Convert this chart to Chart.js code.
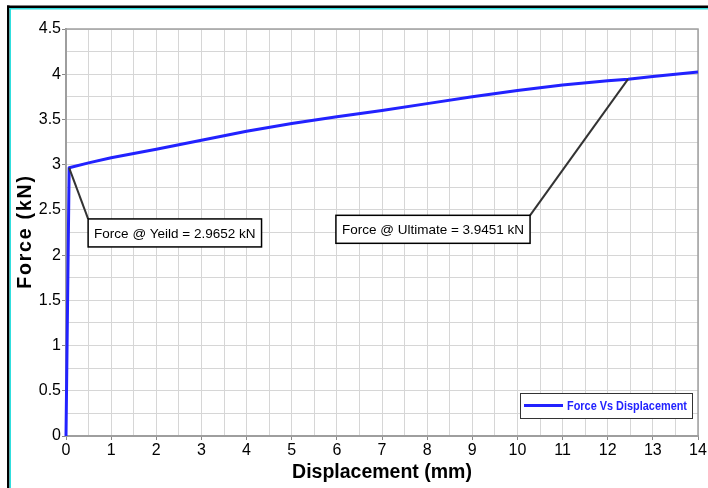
<!DOCTYPE html>
<html>
<head>
<meta charset="utf-8">
<script src="https://cdn.jsdelivr.net/npm/chart.js@4.4.0/dist/chart.umd.min.js"></script>
<style>
  html, body { margin: 0; padding: 0; background: #fff; }
  #wrap { width: 708px; height: 488px; }
</style>
</head>
<body>
<div id="wrap"><canvas id="forceChart" width="708" height="488"></canvas></div>
<script>
// values
const displacement = [0, 0.07, 0.5, 1, 2, 3, 4, 5, 6, 7, 8, 9, 10, 11, 12, 12.45, 13, 14];
const force = [0, 2.9652, 3.02, 3.077, 3.17, 3.27, 3.37, 3.455, 3.53, 3.60, 3.675, 3.75, 3.82, 3.88, 3.927, 3.9451, 3.975, 4.025];
const seriesLabel = "Force Vs Displacement";
const yTitle = "Force (kN)";
const calloutTexts = ["Force @ Yeild = 2.9652 kN", "Force @ Ultimate = 3.9451 kN"];
const calloutPoints = [[0.07, 2.9652], [12.45, 3.9451]];

const BLUE = "#2222ff";
const FONT = "'Liberation Sans', Arial, sans-serif";

// window frame (black + cyan edge) seen round the screenshot, plot border, y title
const framePlugin = {
  id: "frame",
  beforeDraw(chart) {
    const ctx = chart.ctx, a = chart.chartArea;
    ctx.save();
    ctx.fillStyle = "#fff";
    ctx.fillRect(0, 0, chart.width, chart.height);
    ctx.fillStyle = "#000";
    ctx.fillRect(7, 5.5, chart.width - 7, 2.5);
    ctx.fillRect(7, 5.5, 2.5, chart.height);
    ctx.fillStyle = "#30dede";
    ctx.fillRect(9.5, 8, chart.width - 9.5, 1.5);
    ctx.fillRect(9.5, 8, 1.5, chart.height);

    // rotated y axis title, a bit spaced out like the original
    ctx.translate(25, (a.top + a.bottom) / 2);
    ctx.rotate(-Math.PI / 2);
    ctx.font = "bold 19.5px " + FONT;
    ctx.letterSpacing = "1.8px";
    ctx.fillStyle = "#000";
    ctx.textAlign = "center";
    ctx.textBaseline = "middle";
    ctx.fillText(yTitle, 1, 1);
    ctx.restore();
  },
  beforeDatasetsDraw(chart) {
    const a = chart.chartArea, ctx = chart.ctx;
    ctx.save();
    ctx.strokeStyle = "#a0a0a0";
    ctx.lineWidth = 1.5;
    ctx.strokeRect(a.left, a.top, a.right - a.left, a.bottom - a.top);
    ctx.restore();
  }
};

// leader lines + boxed labels
const calloutPlugin = {
  id: "callouts",
  afterDatasetsDraw(chart, args, opts) {
    const ctx = chart.ctx, xs = chart.scales.x, ys = chart.scales.y;
    ctx.save();
    ctx.font = "13.5px " + FONT;
    opts.items.forEach((item, i) => {
      const px = xs.getPixelForValue(calloutPoints[i][0]);
      const py = ys.getPixelForValue(calloutPoints[i][1]);
      const ax = xs.getPixelForValue(item.at[0]);
      const ay = ys.getPixelForValue(item.at[1]);
      const w = ctx.measureText(calloutTexts[i]).width + 12;
      const h = 28;
      const left = item.side === "left" ? ax : ax - w;

      ctx.strokeStyle = "#333";
      ctx.lineWidth = 2;
      ctx.beginPath();
      ctx.moveTo(px, py);
      ctx.lineTo(ax, ay);
      ctx.stroke();

      ctx.fillStyle = "#fff";
      ctx.fillRect(left, ay, w, h);
      ctx.strokeStyle = "#000";
      ctx.lineWidth = 1.5;
      ctx.strokeRect(left, ay, w, h);
      ctx.fillStyle = "#000";
      ctx.textAlign = "left";
      ctx.textBaseline = "middle";
      ctx.fillText(calloutTexts[i], left + 6, ay + h / 2 + 1);
    });
    ctx.restore();
  }
};

// legend box inside the plot, bottom right
const legendBoxPlugin = {
  id: "legendBox",
  afterDraw(chart) {
    const a = chart.chartArea, ctx = chart.ctx;
    const w = 172, h = 25;
    const x = a.right - 6 - w, y = a.bottom - 18 - h;
    ctx.save();
    ctx.fillStyle = "#fff";
    ctx.fillRect(x, y, w, h);
    ctx.strokeStyle = "#333";
    ctx.lineWidth = 1;
    ctx.strokeRect(x + 0.5, y + 0.5, w, h);
    ctx.strokeStyle = BLUE;
    ctx.lineWidth = 3;
    ctx.beginPath();
    ctx.moveTo(x + 4, y + h / 2);
    ctx.lineTo(x + 43, y + h / 2);
    ctx.stroke();
    ctx.fillStyle = BLUE;
    ctx.font = "bold 13px " + FONT;
    ctx.textAlign = "left";
    ctx.textBaseline = "middle";
    // original uses a narrow face, squeeze to the same width
    ctx.fillText(seriesLabel, x + 47, y + h / 2 + 1, 120);
    ctx.restore();
  }
};

function majorTick(ctx, step) {
  return ctx.tick && Math.abs(ctx.tick.value / step - Math.round(ctx.tick.value / step)) < 1e-6;
}

new Chart(document.getElementById("forceChart"), {
  type: "line",
  data: {
    datasets: [{
      label: seriesLabel,
      data: displacement.map((d, i) => ({ x: d, y: force[i] })),
      borderColor: BLUE,
      borderWidth: 3,
      pointRadius: 0,
      tension: 0,
      borderJoinStyle: "round",
      clip: 4
    }]
  },
  options: {
    responsive: false,
    animation: false,
    devicePixelRatio: 1,
    layout: { padding: { left: 12, top: 29, right: 10, bottom: 0 } },
    plugins: {
      legend: { display: false },
      tooltip: { enabled: false },
      callouts: {
        items: [
          { at: [0.49, 2.40], side: "left" },
          { at: [10.28, 2.44], side: "right" }
        ]
      }
    },
    scales: {
      x: {
        type: "linear",
        min: 0,
        max: 14,
        afterFit: s => { s.height = 52; },
        border: { color: "#999", width: 2 },
        grid: {
          color: "#d6d6d6",
          lineWidth: 1,
          tickLength: 4,
          tickColor: c => majorTick(c, 1) ? "#888" : "rgba(0,0,0,0)"
        },
        ticks: {
          stepSize: 0.5,
          autoSkip: false,
          maxRotation: 0,
          padding: 1,
          color: "#000",
          font: { family: FONT, size: 16 },
          callback: v => (v % 1 === 0 ? String(v) : "")
        },
        title: {
          display: true,
          text: "Displacement (mm)",
          color: "#000",
          font: { family: FONT, size: 19.5, weight: "bold" },
          padding: { top: 0, bottom: 4 }
        }
      },
      y: {
        type: "linear",
        min: 0,
        max: 4.5,
        afterFit: s => { s.width = 54; },
        border: { color: "#999", width: 2 },
        grid: {
          color: "#d6d6d6",
          lineWidth: 1,
          tickLength: 4,
          tickColor: c => majorTick(c, 0.5) ? "#888" : "rgba(0,0,0,0)"
        },
        ticks: {
          stepSize: 0.25,
          autoSkip: false,
          padding: 1,
          color: "#000",
          font: { family: FONT, size: 16 },
          callback: v => (Math.abs(v * 2 - Math.round(v * 2)) < 1e-6 ? String(v) : "")
        }
      }
    }
  },
  plugins: [framePlugin, calloutPlugin, legendBoxPlugin]
});
</script>
</body>
</html>
